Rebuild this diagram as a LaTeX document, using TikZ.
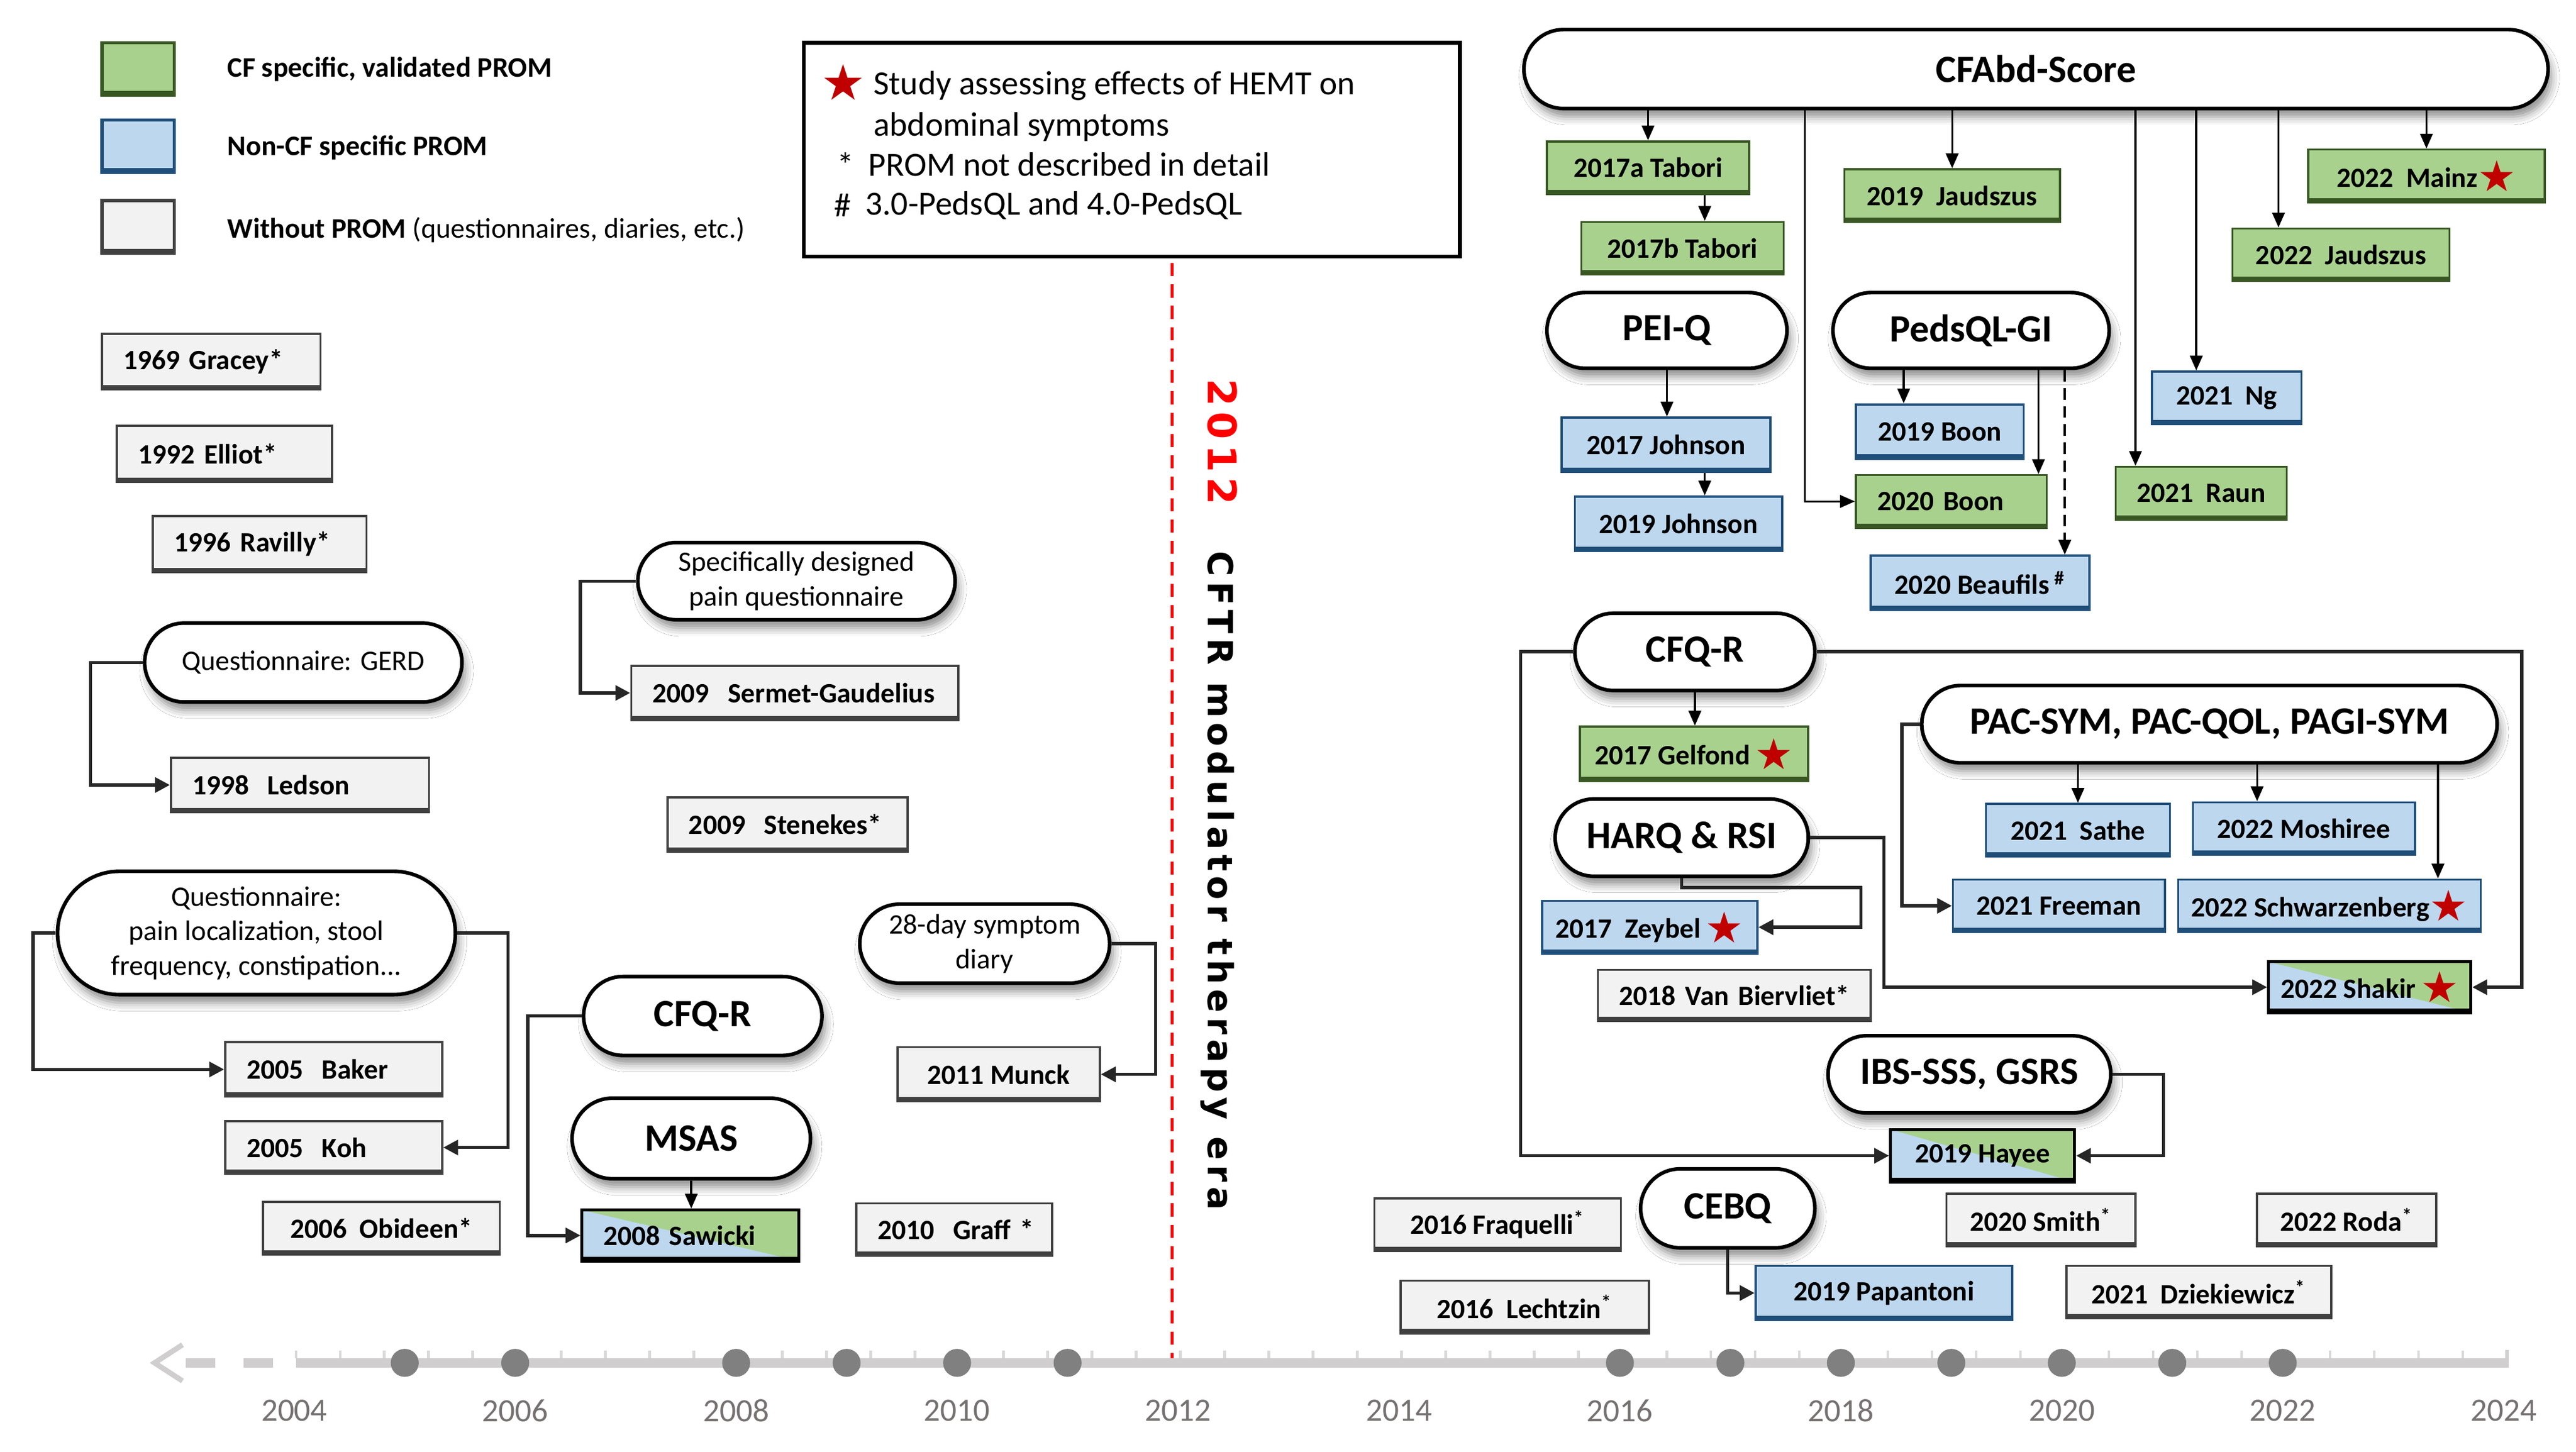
\documentclass[tikz,border=0pt]{standalone}
\usepackage{fontspec}
\setmainfont{Carlito}
\newfontfamily\SymF{DejaVu Sans}
\newfontfamily\VertF{DejaVu Sans}[LetterSpace=14]
\usetikzlibrary{arrows.meta,shapes.misc,shadows.blur}
\definecolor{cgreen}{HTML}{A9D18E}
\definecolor{bgreen}{HTML}{385723}
\definecolor{cblue}{HTML}{BDD7EE}
\definecolor{bblue}{HTML}{1F4E79}
\definecolor{cgray}{HTML}{F2F2F2}
\definecolor{bgray}{HTML}{404040}
\definecolor{cred}{HTML}{C00000}
\definecolor{tlgray}{HTML}{D0CECE}
\definecolor{tickgray}{HTML}{D9D9D9}
\definecolor{dotgray}{HTML}{808080}
\definecolor{yeargray}{HTML}{767171}
\definecolor{linegray}{HTML}{262626}
\newcommand\BoxFont{\fontsize{8.5}{10}\selectfont\bfseries}
\newcommand\StadB{\fontsize{11.75}{14}\selectfont\bfseries}
\newcommand\StadR{\fontsize{8.6}{10.5}\selectfont}
\newcommand\StarR{{\SymF\mdseries\fontsize{13}{13}\selectfont\color{cred}\raisebox{-0.1em}{★}}}
\tikzset{
  bxb/.style={rectangle, inner sep=0pt, font=\BoxFont, line width=0.65pt},
  sz/.style 2 args={minimum width=#1*0.5pt, minimum height=#2*0.5pt},
  lt/.style 2 args={text width=#1*0.5pt-13pt, minimum height=#2*0.5pt, inner xsep=6.5pt, align=left},
  botline/.style={path picture={\draw[#1, line width=1.3pt] ([yshift=0.65pt]path picture bounding box.south west) -- ([yshift=0.65pt]path picture bounding box.south east);}},
  gbx/.style={bxb, draw=bgray, fill=cgray, botline=bgray},
  gnbx/.style={bxb, draw=bgreen, fill=cgreen, botline=bgreen},
  blbx/.style={bxb, draw=bblue, fill=cblue, botline=bblue},
  spbx/.style={bxb, draw=black, line width=0.9pt, fill=cblue, path picture={\fill[cgreen] (path picture bounding box.north west) -- (path picture bounding box.north east) -- (path picture bounding box.south east) -- cycle; \draw[black, line width=1.3pt] ([yshift=0.65pt]path picture bounding box.south west) -- ([yshift=0.65pt]path picture bounding box.south east);}},
  st/.style={rounded rectangle, draw=black, line width=1.1pt, fill=white, inner sep=1pt, align=center, blur shadow={shadow xshift=1pt, shadow yshift=-2.5pt, shadow blur radius=2.5pt, shadow opacity=45}},
  stb/.style={st, font=\StadB},
  str/.style={st, font=\StadR},
  arr/.style={draw=black, line width=0.6pt, -{Triangle[length=4.5pt,width=3.8pt]}},
  arrd/.style={arr, dash pattern=on 3.5pt off 2pt},
  arrk/.style={draw=linegray, line width=1pt, -{Triangle[length=4.5pt,width=4.5pt]}},
  yr/.style={font=\fontsize{9.9}{11}\selectfont, text=yeargray, inner sep=0pt},
  lgt/.style={anchor=west, inner sep=0pt, font=\fontsize{10.3}{12}\selectfont},
  lgl/.style={anchor=west, inner sep=0pt, font=\fontsize{8.6}{10}\selectfont\bfseries},
}
\begin{document}
\begin{tikzpicture}[x=0.5pt,y=-0.5pt]
\fill[white] (0,0) rectangle (1567,883.2);
\useasboundingbox (0,0) rectangle (1567,883.2);

% ---------- legend ----------
\node[gnbx, line width=1pt, sz={44}{32}] (lgG) at (84,42) {};
\node[blbx, line width=1pt, sz={44}{32}] (lgB) at (84,89) {};
\node[gbx, line width=1pt, sz={44}{32}] (lgW) at (84,138) {};
\node[lgl] (lgGt) at (138,42) {CF specific, validated PROM};
\node[lgl] (lgBt) at (138,90) {Non-CF specific PROM};
\node[lgl] (lgWt) at (138,140) {Without PROM \mdseries(questionnaires, diaries, etc.)};

\node[draw=black, line width=1.2pt, minimum width=199.5pt, minimum height=65pt, inner sep=0pt] (legbox) at (688.5,91) {};
\node[inner sep=0pt, font=\SymF\fontsize{15}{15}\selectfont, text=cred] (lgstar) at (513,50) {★};
\node[lgt, anchor=north west, align=left, font=\fontsize{10.3}{12.5}\selectfont] (lg1) at (531,43) {Study assessing effects of HEMT on\\abdominal symptoms};
\node[lgt] (lg3s) at (509,100) {*};
\node[lgt] (lg3) at (528,100) {PROM not described in detail};
\node[lgt] (lg4s) at (507,125) {\#};
\node[lgt] (lg4) at (526,125) {3.0-PedsQL and 4.0-PedsQL};

% ---------- 2012 divider ----------
\draw[red, line width=0.75pt, dash pattern=on 4pt off 2.5pt] (713,160) -- (713,828);
\node[rotate=-90, anchor=base west, inner sep=0pt, text=red, font=\VertF\bfseries\fontsize{12}{12}\selectfont] (v2012) at (735,230) {2012};
\node[rotate=-90, anchor=base west, inner sep=0pt, font=\VertF\bfseries\fontsize{10.5}{12}\selectfont] (vera) at (735,335) {CFTR modulator therapy era};

% ---------- left part ----------
\node[gbx, lt={133}{34}] (gracey) at (128.5,220) {1969 Gracey*};
\node[gbx, lt={131}{34}] (elliot) at (136.5,276) {1992 Elliot*};
\node[gbx, lt={130}{34}] (ravilly) at (158,331) {1996 Ravilly*};
\node[str, sz={197}{48}] (gerd) at (184.5,403) {Questionnaire: GERD};
\node[gbx, lt={157}{33}] (ledson) at (182.5,477.5) {1998~~Ledson};
\node[str, sz={197}{47}] (spec) at (484.5,353.5) {Specifically designed\\pain questionnaire};
\node[gbx, lt={199}{33}] (sermet) at (483.5,421.5) {\mbox{2009~~Sermet-Gaudelius}};
\node[gbx, lt={146}{33}] (stenekes) at (479,501.5) {\mbox{2009~~Stenekes*}};
\node[str, sz={246}{75}] (qpain) at (156,567.5) {Questionnaire:\\pain localization, stool\\frequency, constipation...};
\node[gbx, lt={132}{33}] (baker) at (203,650.5) {2005~~Baker};
\node[gbx, lt={132}{32}] (koh) at (203,698) {2005~~Koh};
\node[gbx, sz={144}{32}] (obideen) at (232,747) {2006~~Obideen*};
\node[stb, sz={149}{48}] (cfqr1) at (427.5,618) {CFQ-R};
\node[stb, sz={149}{49}] (msas) at (420.5,692.5) {MSAS};
\node[spbx, lt={132}{31}] (sawicki) at (420,751.5) {2008 Sawicki};
\node[str, sz={156}{48}] (diary) at (599,574) {28-day symptom\\diary};
\node[gbx, sz={123}{33}] (munck) at (607.5,653.5) {2011 Munck};
\node[gbx, lt={119}{32}] (graff) at (580.5,748) {\mbox{2010~~Graff *}};

% ---------- right part ----------
\node[stb, sz={627}{48}] (cfabd) at (1238.5,42) {CFAbd-Score};
\node[gnbx, sz={123}{32}] (taboria) at (1002.5,102) {2017a Tabori};
\node[gnbx, sz={123}{32}] (taborib) at (1023.5,151) {2017b Tabori};
\node[gnbx, sz={131}{32}] (jaud19) at (1187.5,119) {2019~~Jaudszus};
\node[gnbx, sz={144}{32}] (mainz) at (1476,107) {2022~~Mainz\StarR};
\node[gnbx, sz={132}{32}] (jaud22) at (1424,155) {2022~~Jaudszus};
\node[stb, sz={150}{46}] (peiq) at (1014,201) {PEI-Q};
\node[stb, sz={172}{46}] (pedsql) at (1199,201) {PedsQL-GI};
\node[blbx, sz={127}{33}] (john17) at (1013.5,270.5) {2017 Johnson};
\node[blbx, sz={126}{33}] (john19) at (1021,318.5) {2019 Johnson};
\node[blbx, sz={102}{33}] (boon19) at (1180,262.5) {2019 Boon};
\node[gnbx, lt={116}{32}] (boon20) at (1187,305) {2020 Boon};
\node[blbx, sz={133}{33}] (beaufils) at (1204.5,354.5) {2020 Beaufils\,\textsuperscript{\#}};
\node[blbx, sz={91}{32}] (ng) at (1354.5,242) {2021~~Ng};
\node[gnbx, sz={104}{32}] (raun) at (1339,300) {2021~~Raun};
\node[stb, sz={150}{47}] (cfqr2) at (1031,396.5) {CFQ-R};
\node[gnbx, sz={139}{33}] (gelfond) at (1030.5,458.5) {2017 Gelfond\,\StarR};
\node[stb, sz={158}{47}] (harq) at (1023,509.5) {HARQ \& RSI};
\node[blbx, sz={131}{32}] (zeybel) at (1003.5,564) {2017~~Zeybel\,\StarR};
\node[stb, sz={354}{47}] (pac) at (1344,440.5) {PAC-SYM, PAC-QOL, PAGI-SYM};
\node[blbx, sz={112}{32}] (sathe) at (1264,505) {2021~~Sathe};
\node[blbx, sz={135}{32}] (moshiree) at (1401.5,504) {2022 Moshiree};
\node[blbx, sz={129}{32}] (freeman) at (1252.5,551) {2021 Freeman};
\node[blbx, sz={184}{32}] (schwarz) at (1417,551) {2022 Schwarzenberg\StarR};
\node[gbx, lt={166}{31}] (vanb) at (1055,605.5) {\mbox{2018 Van Biervliet*}};
\node[spbx, sz={123}{31}] (shakir) at (1441.5,600.5) {2022 Shakir\,\StarR};
\node[stb, sz={176}{47}] (ibs) at (1198,653.5) {IBS-SSS, GSRS};
\node[spbx, sz={112}{32}] (hayee) at (1206,703) {2019 Hayee};
\node[stb, sz={110}{48}] (cebq) at (1051,735) {CEBQ};
\node[blbx, sz={156}{33}] (papantoni) at (1146,786.5) {2019 Papantoni};
\node[gbx, sz={150}{32}] (fraquelli) at (911,745) {2016 Fraquelli\textsuperscript{*}};
\node[gbx, sz={151}{32}] (lechtzin) at (927.5,795) {2016~~Lechtzin\textsuperscript{*}};
\node[gbx, sz={115}{32}] (smith) at (1241.5,742) {2020 Smith\textsuperscript{*}};
\node[gbx, sz={161}{32}] (dziek) at (1337.5,786) {2021~~Dziekiewicz\textsuperscript{*}};
\node[gbx, sz={109}{32}] (roda) at (1427.5,742) {2022 Roda\textsuperscript{*}};

% ---------- helper coordinates ----------
\coordinate (c1037) at (1037,0);
\coordinate (c1386) at (1386,0);
\coordinate (c1098) at (1098,0);
\coordinate (c1299) at (1299,0);
\coordinate (c1336) at (1336,0);
\coordinate (c1158) at (1158,0);
\coordinate (c1240) at (1240,0);
\coordinate (c1256) at (1256,0);
\coordinate (c925) at (925,0);
\coordinate (c1534) at (1534,0);
\coordinate (hz) at (1132,540);
\coordinate (c1146) at (1146,0);
\coordinate (c1373) at (1373,0);
\coordinate (c1483) at (1483,0);
\coordinate (c1157) at (1157,0);
\coordinate (c1316) at (1316,0);
\coordinate (c55) at (55,0);
\coordinate (c353) at (353,0);
\coordinate (c20) at (20,0);
\coordinate (c309) at (309,0);
\coordinate (c321) at (321,0);
\coordinate (c703) at (703,0);

% ---------- connectors ----------
\draw[arr] (cfabd.south -| taboria.north) -- (taboria.north);
\draw[arr] (taboria.south -| c1037) -- (taborib.north -| c1037);
\draw[arr] (cfabd.south -| jaud19.north) -- (jaud19.north);
\draw[arr] (cfabd.south -| mainz.north) -- (mainz.north);
\draw[arr] (cfabd.south -| c1386) -- (jaud22.north -| c1386);
\draw[arr] (cfabd.south -| c1098) |- (boon20.west);
\draw[arr] (cfabd.south -| c1299) -- (raun.north -| c1299);
\draw[arr] (cfabd.south -| c1336) -- (ng.north -| c1336);
\draw[arr] (peiq.south) -- (peiq.south |- john17.north);
\draw[arr] (john17.south -| c1037) -- (john19.north -| c1037);
\draw[arr] (pedsql.south -| c1158) -- (boon19.north -| c1158);
\draw[arr] (pedsql.south -| c1240) -- (boon20.north -| c1240);
\draw[arrd] (pedsql.south -| c1256) -- (beaufils.north -| c1256);
\draw[arrk] (cfqr2.west) -- (cfqr2.west -| c925) |- (hayee.west);
\draw[arrk] (cfqr2.east) -- (cfqr2.east -| c1534) |- (shakir.east);
\draw[arr] (cfqr2.south) -- (cfqr2.south |- gelfond.north);
\draw[arrk] (harq.south) |- (hz) |- (zeybel.east);
\draw[arrk] (harq.east) -- (harq.east -| c1146) |- (shakir.west);
\draw[arr] (pac.south -| sathe.north) -- (sathe.north);
\draw[arr] (pac.south -| c1373) -- (moshiree.north -| c1373);
\draw[arr] (pac.south -| c1483) -- (schwarz.north -| c1483);
\draw[arrk] (pac.west) -- (pac.west -| c1157) |- (freeman.west);
\draw[arrk] (ibs.east) -- (ibs.east -| c1316) |- (hayee.east);
\draw[arrk] (cebq.south) |- (papantoni.west);
\draw[arrk] (gerd.west) -- (gerd.west -| c55) |- (ledson.west);
\draw[arrk] (spec.west) -- (spec.west -| c353) |- (sermet.west);
\draw[arrk] (qpain.west) -- (qpain.west -| c20) |- (baker.west);
\draw[arrk] (qpain.east) -- (qpain.east -| c309) |- (koh.east);
\draw[arrk] (cfqr1.west) -- (cfqr1.west -| c321) |- (sawicki.west);
\draw[arr] (msas.south) -- (msas.south |- sawicki.north);
\draw[arrk] (diary.east) -- (diary.east -| c703) |- (munck.east);

% ---------- timeline ----------
\fill[tlgray] (180,826) rectangle (1525,832);
\foreach \i in {0,...,50} \draw[tickgray, line width=0.8pt] ({180+\i*26.9},821.5) -- ({180+\i*26.9},826);
\draw[tlgray, line width=1pt] (1525,821) -- (1525,832);
\draw[tlgray, line width=1.6pt] (111,818) -- (94,829) -- (111,840);
\fill[tlgray] (113,826) rectangle (131,832);
\fill[tlgray] (148,826) rectangle (166,832);
\foreach \yr in {2005,2006,2008,2009,2010,2011,2016,2017,2018,2019,2020,2021,2022}
  \fill[dotgray] ({179+(\yr-2004)*67.2},829) circle (4.25pt);
\foreach \yr in {2004,2006,...,2024}
  \node[yr] (y\yr) at ({179+(\yr-2004)*67.2},858) {\yr};
\end{tikzpicture}
\end{document}
